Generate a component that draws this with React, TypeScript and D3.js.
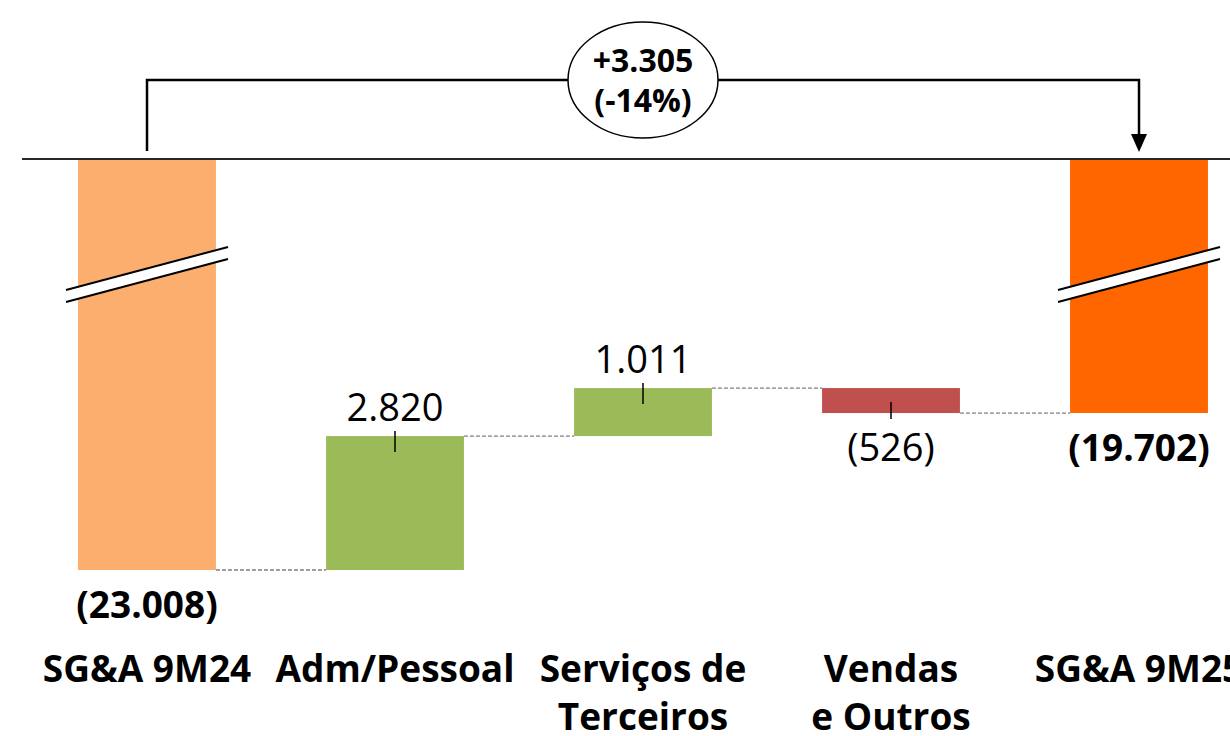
import React, { useEffect, useRef } from 'react';
import * as d3 from 'd3';

// SG&A bridge, R$ mil
const categories = ['SG&A 9M24', 'Adm/Pessoal', 'Serviços de Terceiros', 'Vendas e Outros', 'SG&A 9M25'];
const categoryLines = [['SG&A 9M24'], ['Adm/Pessoal'], ['Serviços de', 'Terceiros'], ['Vendas', 'e Outros'], ['SG&A 9M25']];
const kinds = ['total', 'down', 'down', 'up', 'total'];
// expense amounts (totals are absolute, steps are changes)
const amounts = [23008, -2820, -1011, 526, 19702];
const valueLabels = ['(23.008)', '2.820', '1.011', '(526)', '(19.702)'];
const variationLabels = ['+3.305', '(-14%)'];

const colors = ['#FCAE6E', '#9BBB59', '#9BBB59', '#C0504D', '#FF6600'];

const W = 1230;
const H = 736;
const FONT = '"Open Sans", "Noto Sans", sans-serif';

const App: React.FC = () => {
  const ref = useRef<SVGSVGElement>(null);

  useEffect(() => {
    drawChart();
  }, []);

  const drawChart = () => {
    const svg = d3.select(ref.current);
    svg.selectAll('*').remove();

    // bars start/end values
    let running = 0;
    const bars = amounts.map((a, i) => {
      let lo: number, hi: number;
      if (kinds[i] === 'total') {
        running = a;
        lo = NaN;
        hi = a;
      } else {
        const prev = running;
        running = running + a;
        lo = Math.min(prev, running);
        hi = Math.max(prev, running);
      }
      return { i, kind: kinds[i], lo, hi, end: running };
    });

    const x = d3.scaleBand<string>()
      .domain(categories)
      .range([23, 1263])
      .paddingInner(0.444)
      .paddingOuter(0.222);

    // broken axis: top of the plot is not zero
    const axisTop = 14375;
    const y = d3.scaleLinear()
      .domain([axisTop, d3.max(amounts) ?? 0])
      .range([160, 570]);

    const bw = x.bandwidth();
    const cx = (i: number) => (x(categories[i]) ?? 0) + bw / 2;

    // bars
    svg.append('g')
      .selectAll('rect')
      .data(bars)
      .enter().append('rect')
      .attr('x', d => x(categories[d.i]) ?? 0)
      .attr('y', d => d.kind === 'total' ? y(axisTop) : y(d.lo))
      .attr('width', bw)
      .attr('height', d => d.kind === 'total' ? y(d.hi) - y(axisTop) : y(d.hi) - y(d.lo))
      .attr('fill', d => colors[d.i]);

    // connectors
    svg.append('g')
      .selectAll('line')
      .data(bars.slice(0, -1))
      .enter().append('line')
      .attr('x1', d => (x(categories[d.i]) ?? 0) + bw)
      .attr('x2', d => x(categories[d.i + 1]) ?? 0)
      .attr('y1', d => y(d.end))
      .attr('y2', d => y(d.end))
      .attr('stroke', '#7F7F7F')
      .attr('stroke-width', 1.3)
      .attr('stroke-dasharray', '4,2');

    // small ticks on the step bars
    svg.append('g')
      .selectAll('line')
      .data(bars.filter(d => d.kind !== 'total'))
      .enter().append('line')
      .attr('x1', d => cx(d.i))
      .attr('x2', d => cx(d.i))
      .attr('y1', d => d.kind === 'down' ? y(d.lo) - 5 : y(d.hi) - 11)
      .attr('y2', d => d.kind === 'down' ? y(d.lo) + 16 : y(d.hi) + 6)
      .attr('stroke', '#000')
      .attr('stroke-width', 1.5);

    // axis break marks on the total bars
    bars.filter(d => d.kind === 'total').forEach(d => {
      const c = cx(d.i);
      const g = svg.append('g');
      g.append('path')
        .attr('d', `M${c - 80},${290} L${c + 80},${247} L${c + 80},${259} L${c - 80},${302} Z`)
        .attr('fill', '#fff');
      [0, 12].forEach(off => {
        g.append('line')
          .attr('x1', c - 81).attr('y1', 290 + off)
          .attr('x2', c + 81).attr('y2', 247 + off)
          .attr('stroke', '#000')
          .attr('stroke-width', 2);
      });
    });

    // top baseline
    svg.append('line')
      .attr('x1', 22).attr('x2', W)
      .attr('y1', 159).attr('y2', 159)
      .attr('stroke', '#262626')
      .attr('stroke-width', 2);

    // value labels
    svg.append('g')
      .selectAll('text')
      .data(bars)
      .enter().append('text')
      .attr('x', d => cx(d.i))
      .attr('y', d => d.kind === 'down' ? y(d.lo) - 15 : y(d.hi) + 48)
      .attr('text-anchor', 'middle')
      .attr('font-family', FONT)
      .attr('font-size', d => d.kind === 'total' ? 37 : 38)
      .attr('font-weight', d => d.kind === 'total' ? 700 : 400)
      .attr('fill', '#000')
      .text(d => valueLabels[d.i]);

    // category labels
    const cat = svg.append('g')
      .selectAll('text')
      .data(categoryLines)
      .enter().append('text')
      .attr('text-anchor', 'middle')
      .attr('font-family', FONT)
      .attr('font-size', 37)
      .attr('font-weight', 700)
      .attr('fill', '#000');
    cat.each(function (lines, i) {
      lines.forEach((l, j) => {
        d3.select(this).append('tspan')
          .attr('x', cx(i))
          .attr('y', 682 + j * 48)
          .text(l);
      });
    });

    // variation bracket
    const x0 = cx(0);
    const x1 = cx(categories.length - 1);
    const yb = 80;
    svg.append('path')
      .attr('d', `M${x0},151 L${x0},${yb} L${x1},${yb} L${x1},136`)
      .attr('fill', 'none')
      .attr('stroke', '#000')
      .attr('stroke-width', 2.5);
    svg.append('path')
      .attr('d', `M${x1 - 8},134 L${x1 + 8},134 L${x1},152 Z`)
      .attr('fill', '#000');

    const ex = (x0 + x1) / 2;
    svg.append('ellipse')
      .attr('cx', ex).attr('cy', yb)
      .attr('rx', 75).attr('ry', 58)
      .attr('fill', '#fff')
      .attr('stroke', '#000')
      .attr('stroke-width', 1.5);
    variationLabels.forEach((t, j) => {
      svg.append('text')
        .attr('x', ex)
        .attr('y', 72 + j * 40)
        .attr('text-anchor', 'middle')
        .attr('font-family', FONT)
        .attr('font-size', 32)
        .attr('font-weight', 700)
        .text(t);
    });
  };

  return (
    <svg ref={ref} width={W} height={H}
      style={{ position: 'absolute', left: 0, top: 0, background: '#fff' }} />
  );
};

export default App;
